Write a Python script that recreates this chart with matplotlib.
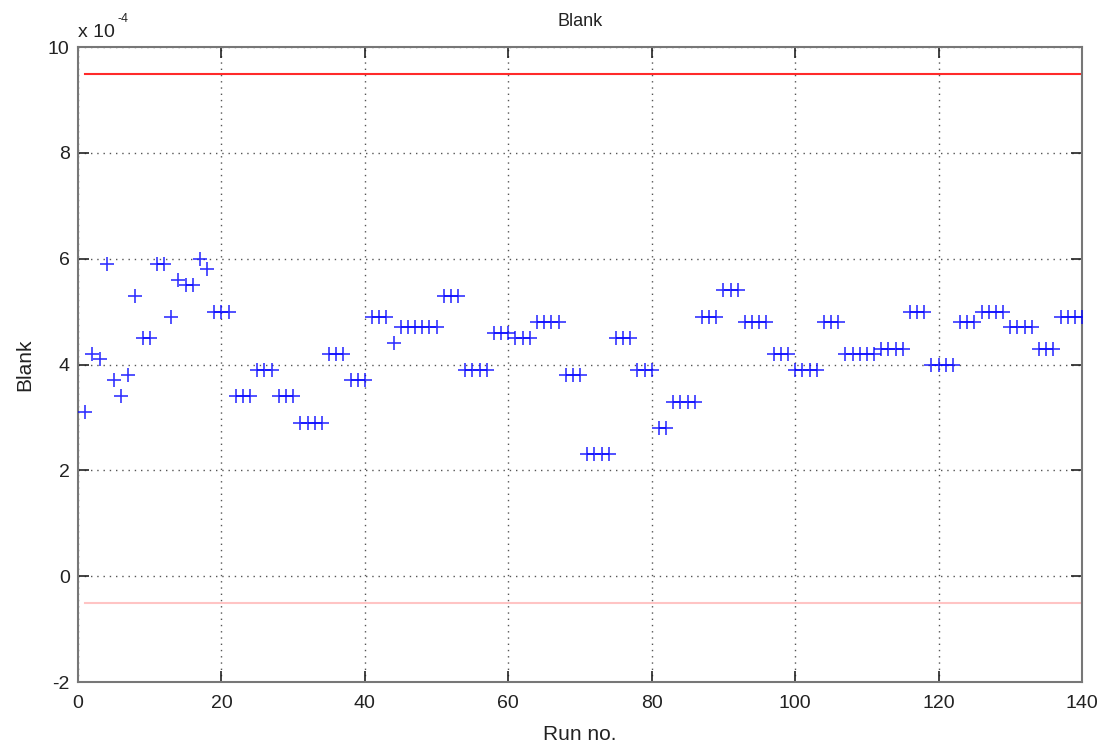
import numpy as np
import matplotlib.pyplot as plt
from matplotlib.ticker import FuncFormatter

plt.rcParams['font.family'] = ['Liberation Sans', 'DejaVu Sans']

# blank measurement per run, in units of 1e-4
runs = np.arange(1, 141)
blank = [
    3.1, 4.2, 4.1, 5.9, 3.7, 3.4, 3.8, 5.3, 4.5, 4.5,
    5.9, 5.9, 4.9, 5.6, 5.5, 5.5, 6.0, 5.8, 5.0, 5.0,
    5.0, 3.4, 3.4, 3.4, 3.9, 3.9, 3.9, 3.4, 3.4, 3.4,
    2.9, 2.9, 2.9, 2.9, 4.2, 4.2, 4.2, 3.7, 3.7, 3.7,
    4.9, 4.9, 4.9, 4.4, 4.7, 4.7, 4.7, 4.7, 4.7, 4.7,
    5.3, 5.3, 5.3, 3.9, 3.9, 3.9, 3.9, 4.6, 4.6, 4.6,
    4.5, 4.5, 4.5, 4.8, 4.8, 4.8, 4.8, 3.8, 3.8, 3.8,
    2.3, 2.3, 2.3, 2.3, 4.5, 4.5, 4.5, 3.9, 3.9, 3.9,
    2.8, 2.8, 3.3, 3.3, 3.3, 3.3, 4.9, 4.9, 4.9, 5.4,
    5.4, 5.4, 4.8, 4.8, 4.8, 4.8, 4.2, 4.2, 4.2, 3.9,
    3.9, 3.9, 3.9, 4.8, 4.8, 4.8, 4.2, 4.2, 4.2, 4.2,
    4.2, 4.3, 4.3, 4.3, 4.3, 5.0, 5.0, 5.0, 4.0, 4.0,
    4.0, 4.0, 4.8, 4.8, 4.8, 5.0, 5.0, 5.0, 5.0, 4.7,
    4.7, 4.7, 4.7, 4.3, 4.3, 4.3, 4.9, 4.9, 4.9, 4.9,
]
upper_limit = 9.5
lower_limit = -0.5
scale = 1e-4

fig = plt.figure(figsize=(11.1, 7.47), dpi=100)
ax = fig.add_axes([0.0703, 0.087, 0.9045, 0.850])

ax.plot(runs, np.array(blank) * scale, '+', color='#0000ff', markersize=10.5,
        markeredgewidth=1.2, alpha=0.8, zorder=3)
ax.plot([runs[0], runs[-1]], [upper_limit * scale] * 2, color='#ff2a2a', lw=1.5)
ax.plot([runs[0], runs[-1]], [lower_limit * scale] * 2, color='#ffc4c4', lw=1.5)

ax.set_xlim(0, 140)
ax.set_ylim(-2 * scale, 10 * scale)
ax.set_xticks(np.arange(0, 141, 20))
ax.set_yticks(np.arange(-2, 11, 2) * scale)
ax.yaxis.set_major_formatter(FuncFormatter(lambda v, p: '%g' % round(v / scale, 6)))

ax.grid(True, color='#555555', linestyle=(0, (1, 3.5)), linewidth=1.0)
ax.tick_params(direction='in', length=8, width=1.2, labelsize=14,
               top=True, right=True, colors='#222222', pad=6)
ax.tick_params(axis='x', pad=9)
for s in ax.spines.values():
    s.set_color('#777777')
    s.set_linewidth(1.5)

# exponent label in the axes corner
ax.text(0.0, 1.01, 'x 10', transform=ax.transAxes, fontsize=14,
        ha='left', va='bottom', color='#222222')
ax.text(0.0395, 1.035, '-4', transform=ax.transAxes, fontsize=9,
        ha='left', va='bottom', color='#222222')
ax.set_title('Blank', fontsize=13, pad=15, color='#222222')
ax.set_xlabel('Run no.', fontsize=15, labelpad=10, color='#222222')
ax.set_ylabel('Blank', fontsize=15, labelpad=10, color='#222222')

fig.savefig('out.png', dpi=100)
